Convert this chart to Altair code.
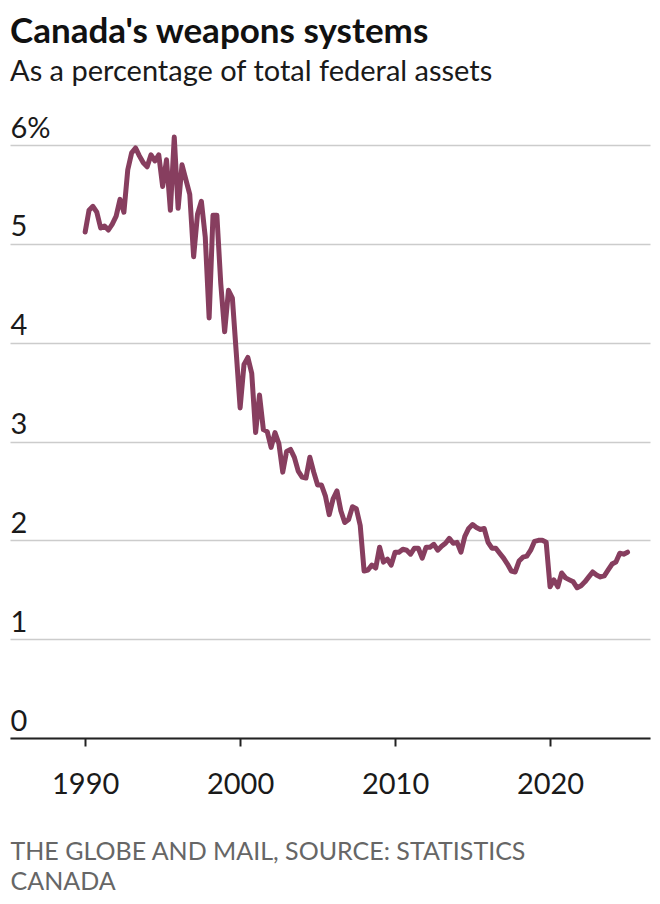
import altair as alt
import pandas as pd

# Quarterly observations, 1990 Q1 .. 2025 Q1 (percent of total federal assets)
start_year = 1990
values = [
    5.12, 5.34, 5.38, 5.32, 5.16, 5.18, 5.14, 5.20, 5.28, 5.45,
    5.32, 5.75, 5.92, 5.97, 5.89, 5.82, 5.78, 5.90, 5.84, 5.90,
    5.58, 5.85, 5.34, 6.08, 5.36, 5.80, 5.65, 5.50, 4.87, 5.30,
    5.43, 5.07, 4.25, 5.29, 5.29, 4.60, 4.11, 4.53, 4.45, 3.90,
    3.34, 3.78, 3.85, 3.69, 3.09, 3.47, 3.12, 3.10, 2.94, 3.09,
    2.98, 2.69, 2.90, 2.92, 2.84, 2.70, 2.64, 2.63, 2.84, 2.69,
    2.56, 2.56, 2.45, 2.26, 2.42, 2.50, 2.30, 2.18, 2.21, 2.34,
    2.32, 2.15, 1.69, 1.70, 1.75, 1.72, 1.93, 1.78, 1.81, 1.75,
    1.88, 1.88, 1.91, 1.90, 1.86, 1.92, 1.92, 1.82, 1.93, 1.93,
    1.96, 1.90, 1.94, 1.97, 2.02, 1.97, 1.98, 1.88, 2.04, 2.12,
    2.16, 2.13, 2.11, 2.12, 1.98, 1.92, 1.92, 1.87, 1.82, 1.76,
    1.69, 1.68, 1.79, 1.83, 1.84, 1.90, 1.99, 2.00, 2.00, 1.98,
    1.53, 1.60, 1.53, 1.67, 1.62, 1.60, 1.58, 1.52, 1.54, 1.58,
    1.63, 1.68, 1.65, 1.63, 1.64, 1.70, 1.76, 1.78, 1.87, 1.86,
    1.88,
]
years = [start_year + 0.25 * i for i in range(len(values))]

x_ticks = [1990, 2000, 2010, 2020]
y_ticks = [0, 1, 2, 3, 4, 5, 6]

title_text = "Canada's weapons systems"
subtitle_text = "As a percentage of total federal assets"
source_lines = ["THE GLOBE AND MAIL, SOURCE: STATISTICS", "CANADA"]

df = pd.DataFrame({"year": years, "value": values})

FONT = "Lato"

chart = (
    alt.Chart(df)
    .mark_line(color="#873e5f", strokeWidth=5, strokeJoin="round", strokeCap="round", clip=False)
    .encode(
        x=alt.X(
            "year:Q",
            scale=alt.Scale(domain=[1985.15, 2026.45], nice=False, zero=False),
            axis=alt.Axis(
                values=x_ticks,
                format="d",
                grid=False,
                domain=True,
                domainColor="#222222",
                domainWidth=2,
                ticks=True,
                tickColor="#222222",
                tickWidth=2,
                tickSize=8,
                labelFont=FONT,
                labelFontSize=29,
                labelColor="#1a1a1a",
                labelPadding=24,
                title=source_lines,
                titleFont=FONT,
                titleFontSize=25,
                titleFontWeight="normal",
                titleColor="#666666",
                titleAnchor="start",
                titleAlign="left",
                titleBaseline="alphabetic",
                titleX=0,
                titleY=121,
                titleLineHeight=30,
            ),
        ),
        y=alt.Y(
            "value:Q",
            scale=alt.Scale(domain=[0, 6], nice=False),
            axis=alt.Axis(
                values=y_ticks,
                labelExpr="datum.value == 6 ? '6%' : datum.label",
                grid=True,
                gridColor="#cccccc",
                gridWidth=1.5,
                domain=False,
                ticks=False,
                tickSize=0,
                labelAlign="left",
                labelBaseline="alphabetic",
                labelPadding=0,
                labelOffset=-8,
                labelFont=FONT,
                labelFontSize=29,
                labelColor="#1a1a1a",
                title=None,
            ),
        ),
    )
    .properties(
        width=640,
        height=593,
        title=alt.TitleParams(
            text=title_text,
            subtitle=subtitle_text,
            anchor="start",
            frame="group",
            font=FONT,
            fontSize=35,
            fontWeight="bold",
            color="#111111",
            subtitleFont=FONT,
            subtitleFontSize=29,
            subtitleColor="#1a1a1a",
            subtitlePadding=8,
            offset=27,
        ),
        autosize=alt.AutoSizeParams(type="none"),
        padding={"left": 2, "top": 137, "right": 2, "bottom": 160},
    )
    .configure(background="white")
    .configure_view(stroke=None)
)

chart.save("out.html", embed_options={"renderer": "svg", "actions": False})
